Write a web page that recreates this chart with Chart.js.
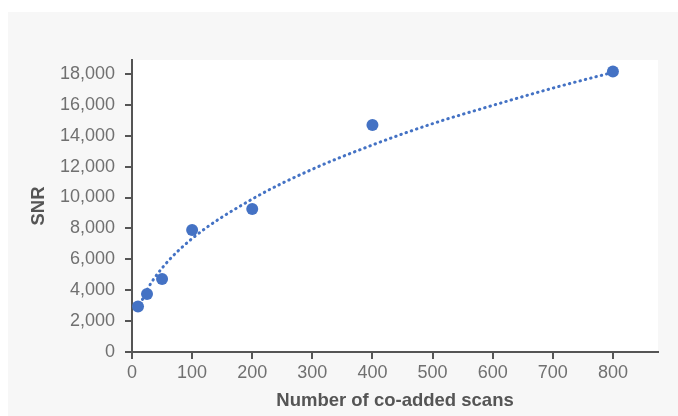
<!DOCTYPE html>
<html>
<head>
<meta charset="utf-8">
<script src="https://cdn.jsdelivr.net/npm/chart.js@4"></script>
<style>
  html, body { margin: 0; padding: 0; background: #fff; }
  .panel { position: absolute; left: 8px; top: 12px; width: 670px; height: 404px; background: #f7f7f7; }
  canvas { display: block; }
</style>
</head>
<body>
<div class="panel"><canvas id="snrChart" width="670" height="404"></canvas></div>
<script>
// measured points
const scans = [10, 25, 50, 100, 200, 400, 800];
const snr = [2950, 3750, 4720, 7900, 9250, 14700, 18150];

// dotted trend line
const trendScans = [10, 25, 50, 100, 200, 300, 400, 500, 600, 700, 800];
const trendSnr = [2750, 4020, 5430, 7340, 9900, 11830, 13400, 14780, 15960, 17080, 18100];

const xTicks = [0, 100, 200, 300, 400, 500, 600, 700, 800];
const yTicks = [0, 2000, 4000, 6000, 8000, 10000, 12000, 14000, 16000, 18000];

const blue = '#4472c4';
const axisColor = '#555555';
const font = "'Liberation Sans', Arial, sans-serif";

// white plot area on the grey panel
const plotBg = {
  id: 'plotBg',
  beforeDraw(chart) {
    const { ctx, chartArea: a } = chart;
    ctx.save();
    ctx.fillStyle = '#ffffff';
    ctx.fillRect(a.left, a.top, a.right - a.left, a.bottom - a.top);
    ctx.restore();
  }
};

new Chart(document.getElementById('snrChart'), {
  type: 'scatter',
  data: {
    datasets: [
      {
        label: 'SNR',
        data: scans.map((x, i) => ({ x: x, y: snr[i] })),
        backgroundColor: blue,
        borderWidth: 0,
        pointRadius: 6,
        pointHoverRadius: 6
      },
      {
        type: 'line',
        label: 'Trend',
        data: trendScans.map((x, i) => ({ x: x, y: trendSnr[i] })),
        borderColor: blue,
        borderWidth: 3,
        borderDash: [0.5, 5],
        borderCapStyle: 'round',
        cubicInterpolationMode: 'monotone',
        pointRadius: 0,
        fill: false
      }
    ]
  },
  options: {
    responsive: false,
    animation: false,
    layout: { padding: { top: 48, right: 20, left: 0, bottom: 0 } },
    plugins: { legend: { display: false }, tooltip: { enabled: false } },
    scales: {
      x: {
        type: 'linear',
        min: 0,
        max: 875,
        afterBuildTicks: s => { s.ticks = xTicks.map(v => ({ value: v })); },
        afterFit: s => { s.height = 64; },
        border: { color: axisColor, width: 2 },
        grid: { drawOnChartArea: false, drawTicks: true, tickLength: 7, color: axisColor, lineWidth: 2 },
        ticks: { color: '#707070', font: { family: font, size: 18 }, padding: 3, maxRotation: 0 },
        title: { display: true, text: 'Number of co-added scans', color: axisColor,
                 font: { family: font, size: 18.5, weight: 'bold' }, padding: { top: 0, bottom: 4 } }
      },
      y: {
        min: 0,
        max: 18900,
        afterBuildTicks: s => { s.ticks = yTicks.map(v => ({ value: v })); },
        afterFit: s => { s.width = 124; },
        border: { color: axisColor, width: 2 },
        grid: { drawOnChartArea: false, drawTicks: true, tickLength: 7, color: axisColor, lineWidth: 2 },
        ticks: { color: '#707070', font: { family: font, size: 18 }, padding: 10,
                 callback: v => v.toLocaleString('en-US') },
        title: { display: true, text: 'SNR', color: axisColor,
                 font: { family: font, size: 18.5, weight: 'bold' }, padding: { top: 20, bottom: 0 } }
      }
    }
  },
  plugins: [plotBg]
});
</script>
</body>
</html>
